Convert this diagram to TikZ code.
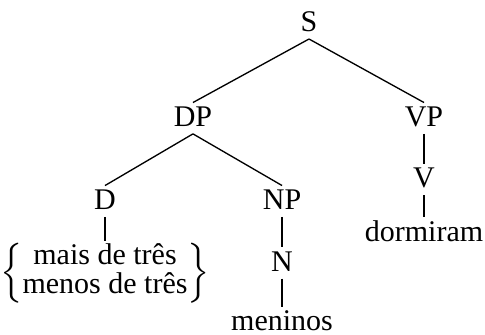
\documentclass[tikz,border=0pt]{standalone}
\usepackage{fontspec}
\setmainfont{Liberation Serif}
\usepackage{tikz}
\usetikzlibrary{positioning, calc}

\begin{document}
\begin{tikzpicture}[
        cat/.style={inner sep=1pt, text height=6pt, text depth=1pt, font=\fontsize{9}{10}\selectfont},
        branch/.style={thin}
    ]
        % Fix the frame
        \useasboundingbox (0,0) rectangle (5.112,3.531);

        % Draw category nodes
        \node[cat] (S) at (3.257,3.285) {S};
        \node[cat] (DP) at (2.034,2.285) {DP};
        \node[cat] (VP) at (4.469,2.285) {VP};
        \node[cat] (D) at (1.107,1.410) {D};
        \node[cat] (NP) at (2.973,1.410) {NP};
        \node[cat] (V) at (4.469,1.640) {V};
        \node[cat] (N) at (2.973,0.760) {N};

        % Add words
        \node[cat] (dormiram) at (4.469,1.075) {dormiram};
        \node[cat] (meninos) at (2.973,0.130) {meninos};
        \node[inner sep=0.5pt, font=\fontsize{9}{10}\selectfont] (quant) at (1.107,0.655)
            {$\left\{\renewcommand{\arraystretch}{0.8}\begin{tabular}{@{}c@{}}mais de três\\menos de três\end{tabular}\right\}$};

        % Draw branches
        \draw[branch] (S.south) -- (DP.north);
        \draw[branch] (S.south) -- (VP.north);
        \draw[branch] (DP.south) -- (D.north);
        \draw[branch] (DP.south) -- (NP.north);
        \draw[branch] (VP.south) -- (V.north);
        \draw[branch] (V.south) -- (dormiram.north);
        \draw[branch] (D.south) -- (quant.north);
        \draw[branch] (NP.south) -- (N.north);
        \draw[branch] (N.south) -- (meninos.north);
    \end{tikzpicture}
\end{document}
